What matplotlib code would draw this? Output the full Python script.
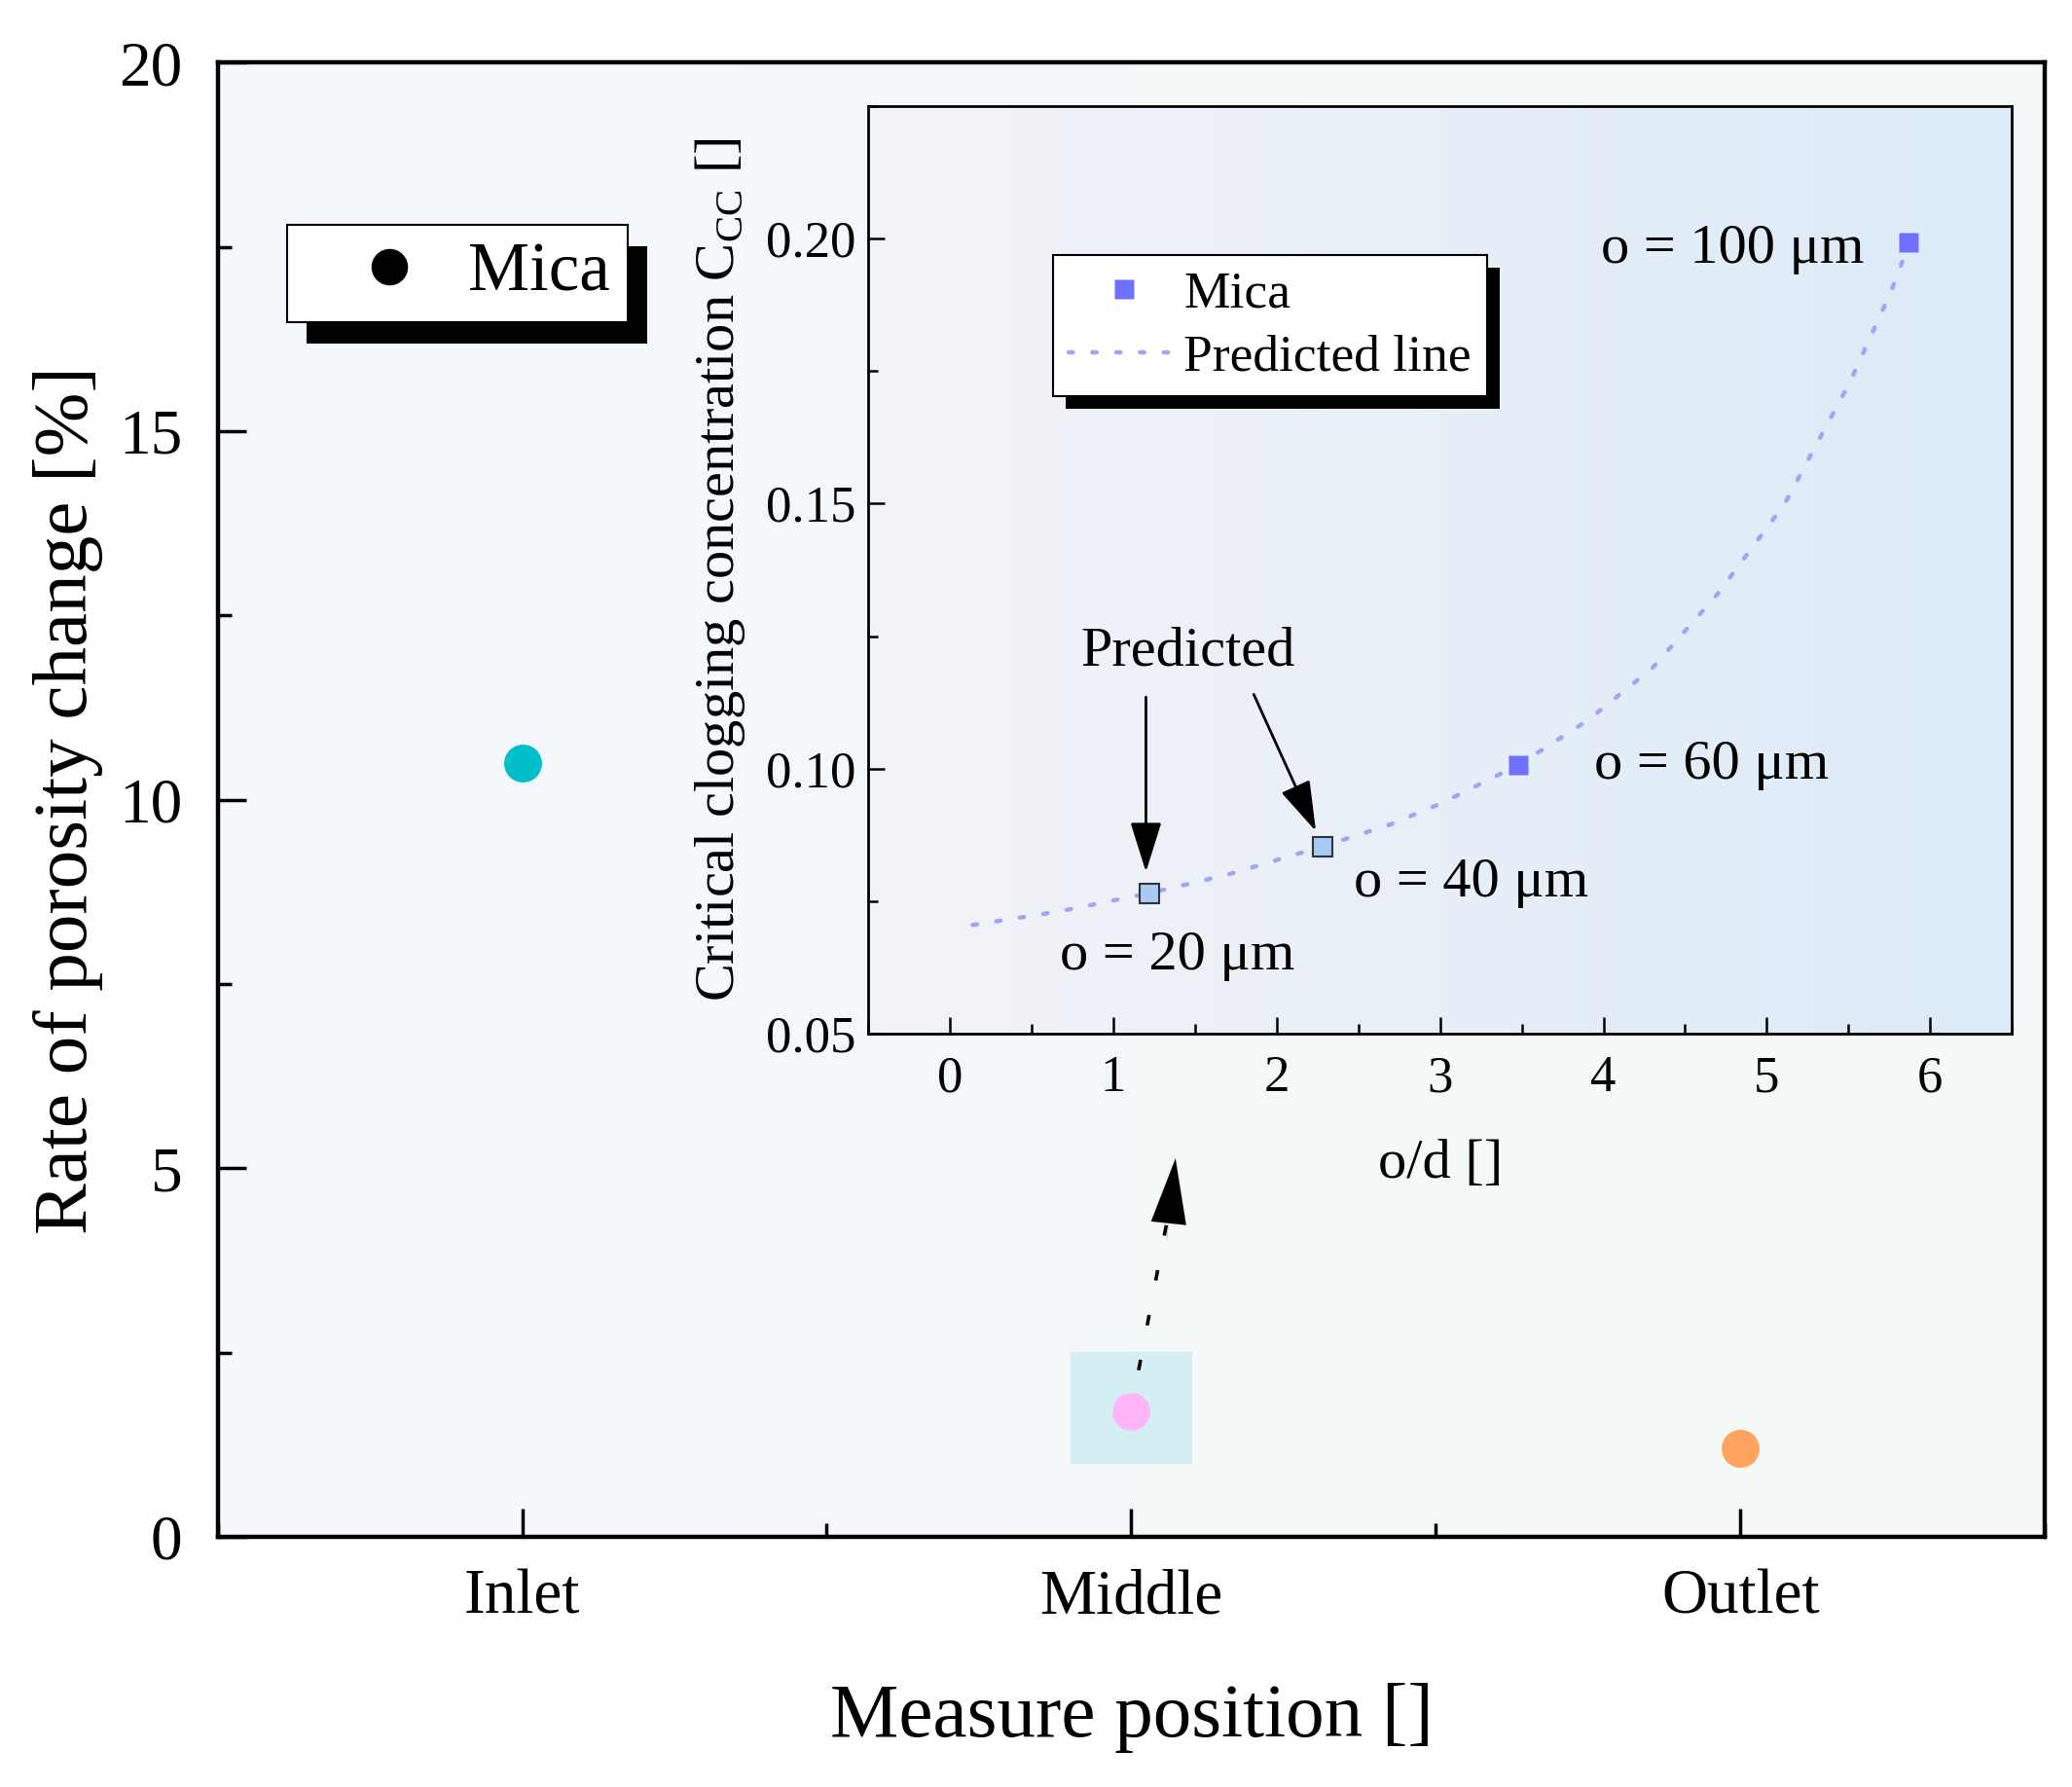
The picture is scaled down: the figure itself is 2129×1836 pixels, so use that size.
import numpy as np
import matplotlib
matplotlib.use("Agg")
from matplotlib import pyplot as plt
from matplotlib.colors import LinearSegmentedColormap
from matplotlib.patches import Rectangle, FancyArrowPatch
from matplotlib.ticker import MultipleLocator

plt.rcParams["font.family"] = ["Liberation Serif", "DejaVu Serif"]
plt.rcParams["mathtext.fontset"] = "custom"
plt.rcParams["mathtext.rm"] = "Liberation Serif"

# main chart data
positions = ["Inlet", "Middle", "Outlet"]
porosity_change = [10.5, 1.7, 1.2]
point_colors = ["#00BFCC", "#FFB5F7", "#FFA35E"]

# inset data
mica_od = [3.48, 5.87]
mica_ccc = [0.1007, 0.1993]
pred_od = [1.22, 2.28]
pred_ccc = [0.0765, 0.0853]
line_od = [0.14, 0.66, 1.22, 1.70, 2.28, 2.70, 3.01, 3.48, 3.90, 4.30, 4.70, 5.11, 5.51, 5.76, 5.87]
line_ccc = [0.0705, 0.0730, 0.0765, 0.0800, 0.0853, 0.0895, 0.0935, 0.1007, 0.1090, 0.1190, 0.1330, 0.1500, 0.1730, 0.1900, 0.1990]
size_labels = ["o = 20 μm", "o = 40 μm", "o = 60 μm", "o = 100 μm"]


def add_shadow(fig, ax, leg, dx, dy):
  fig.canvas.draw()
  bb = leg.get_frame().get_window_extent()
  inv = ax.transAxes.inverted()
  (x0, y0), (x1, y1) = inv.transform([(bb.x0 + dx, bb.y0 - dy), (bb.x1 + dx, bb.y1 - dy)])
  ax.add_patch(Rectangle((x0, y0), x1 - x0, y1 - y0, transform=ax.transAxes,
                         facecolor="black", edgecolor="none", zorder=4.9, clip_on=False))


def gradient_bg(ax, c0, c1):
  cmap = LinearSegmentedColormap.from_list("bg", [c0, c1])
  grad = np.linspace(0, 1, 256).reshape(1, -1)
  ax.imshow(grad, cmap=cmap, extent=[0, 1, 0, 1], transform=ax.transAxes,
            aspect="auto", zorder=-10)


fig = plt.figure(figsize=(21.29, 18.36), dpi=100)

# ---- main axes
ax = fig.add_axes([0.105, 0.140, 0.882, 0.825])
gradient_bg(ax, "#F4F7FD", "#F5F9F6")
x = np.arange(1, len(positions) + 1)
ax.add_patch(Rectangle((1.9, 0.99), 0.2, 1.52, facecolor="#D3EFF3", edgecolor="none", zorder=1))
for xi, yi, c in zip(x, porosity_change, point_colors):
  ax.plot(xi, yi, "o", ms=28, color=c, mec="none", zorder=3)
ax.plot([], [], "o", ms=26, color="black", label="Mica")

# dashed pointer from the Middle point up to the inset
ax.plot([2.012, 2.066], [2.26, 4.6], color="black", lw=2.6, ls=(0, (3, 10)), zorder=3)
ax.add_patch(FancyArrowPatch((2.058, 4.0), (2.073, 5.17), arrowstyle="-|>,head_length=2.4,head_width=0.65",
                             mutation_scale=20, color="black", lw=0.1, zorder=3))

ax.set_xlim(0.5, 3.5)
ax.set_ylim(0, 20)
ax.set_xticks(x)
ax.set_xticklabels(positions)
ax.xaxis.set_minor_locator(MultipleLocator(0.5))
ax.yaxis.set_major_locator(MultipleLocator(5))
ax.yaxis.set_minor_locator(MultipleLocator(2.5))
ax.tick_params(which="both", direction="in", width=2.5, labelsize=47)
ax.tick_params(which="major", length=21)
ax.tick_params(which="minor", length=10)
ax.tick_params(axis="y", pad=26)
ax.tick_params(axis="x", pad=24)
for s in ax.spines.values():
  s.set_linewidth(3.2)
ax.set_xlabel("Measure position []", fontsize=57, labelpad=41)
ax.set_ylabel("Rate of porosity change [%]", fontsize=57, labelpad=12)

leg = ax.legend(loc="upper left", bbox_to_anchor=(0.038, 0.890), borderaxespad=0,
                fontsize=51, frameon=True, fancybox=False, framealpha=1,
                edgecolor="black", handletextpad=-0.1, borderpad=0.25, handlelength=2.48)
leg.get_frame().set_linewidth(1.5)

# ---- inset axes
ins = fig.add_axes([0.419, 0.4216, 0.552, 0.519])
gradient_bg(ins, "#F3F3F8", "#DCEBF7")
ins.plot(line_od, line_ccc, color="#A3A3F7", lw=3.2, ls=(0, (1, 4.5)), dash_capstyle="round",
         label="Predicted line", zorder=2)
ins.plot(mica_od, mica_ccc, "s", ms=15, color="#7070FF", mec="none", zorder=3)
ins.plot(pred_od, pred_ccc, "s", ms=15, color="#A9CBF3", mec="#333333", mew=1.5, zorder=3)
ins.plot([], [], "s", ms=15, color="#7070FF", mec="none", label="Mica")

ins.text(1.455, 0.122, "Predicted", fontsize=42, ha="center", va="center")
ins.annotate("", xy=(1.20, 0.0805), xytext=(1.20, 0.1135),
             arrowprops=dict(arrowstyle="-|>,head_length=1.6,head_width=0.5", color="black",
                             lw=2, mutation_scale=20, shrinkA=0, shrinkB=0))
ins.annotate("", xy=(2.24, 0.0882), xytext=(1.86, 0.1140),
             arrowprops=dict(arrowstyle="-|>,head_length=1.6,head_width=0.5", color="black",
                             lw=2, mutation_scale=20, shrinkA=0, shrinkB=0))
label_pos = [(1.39, 0.0647), (3.19, 0.0785), (4.66, 0.1007), (4.79, 0.198)]
for (lx, ly), t in zip(label_pos, size_labels):
  ins.text(lx, ly, t, fontsize=42, ha="center", va="center")

ins.set_xlim(-0.5, 6.5)
ins.set_ylim(0.05, 0.225)
ins.xaxis.set_major_locator(MultipleLocator(1))
ins.xaxis.set_minor_locator(MultipleLocator(0.5))
ins.set_yticks([0.05, 0.10, 0.15, 0.20])
ins.set_yticklabels(["0.05", "0.10", "0.15", "0.20"])
ins.yaxis.set_minor_locator(MultipleLocator(0.025))
ins.tick_params(which="both", direction="in", width=1.8, labelsize=38)
ins.tick_params(which="major", length=12)
ins.tick_params(which="minor", length=7)
ins.tick_params(axis="x", pad=16)
ins.tick_params(axis="y", pad=9)
for s in ins.spines.values():
  s.set_linewidth(2)
ins.set_xlabel("o/d []", fontsize=42, labelpad=27)
ins.set_ylabel(r"Critical clogging concentration C$_{\rm CC}$ []", fontsize=42, labelpad=14)

handles, labels = ins.get_legend_handles_labels()
order = [labels.index("Mica"), labels.index("Predicted line")]
leg2 = ins.legend([handles[i] for i in order], [labels[i] for i in order],
                  loc="upper left", bbox_to_anchor=(0.162, 0.839), borderaxespad=0,
                  fontsize=38.5, frameon=True, fancybox=False, framealpha=1,
                  edgecolor="black", handletextpad=0.1, borderpad=0.3,
                  handlelength=2.1, labelspacing=0.3)
leg2.get_frame().set_linewidth(1.5)

add_shadow(fig, ax, leg, 20, 22)
add_shadow(fig, ins, leg2, 13, 13)

fig.savefig("out.png", dpi=100)
